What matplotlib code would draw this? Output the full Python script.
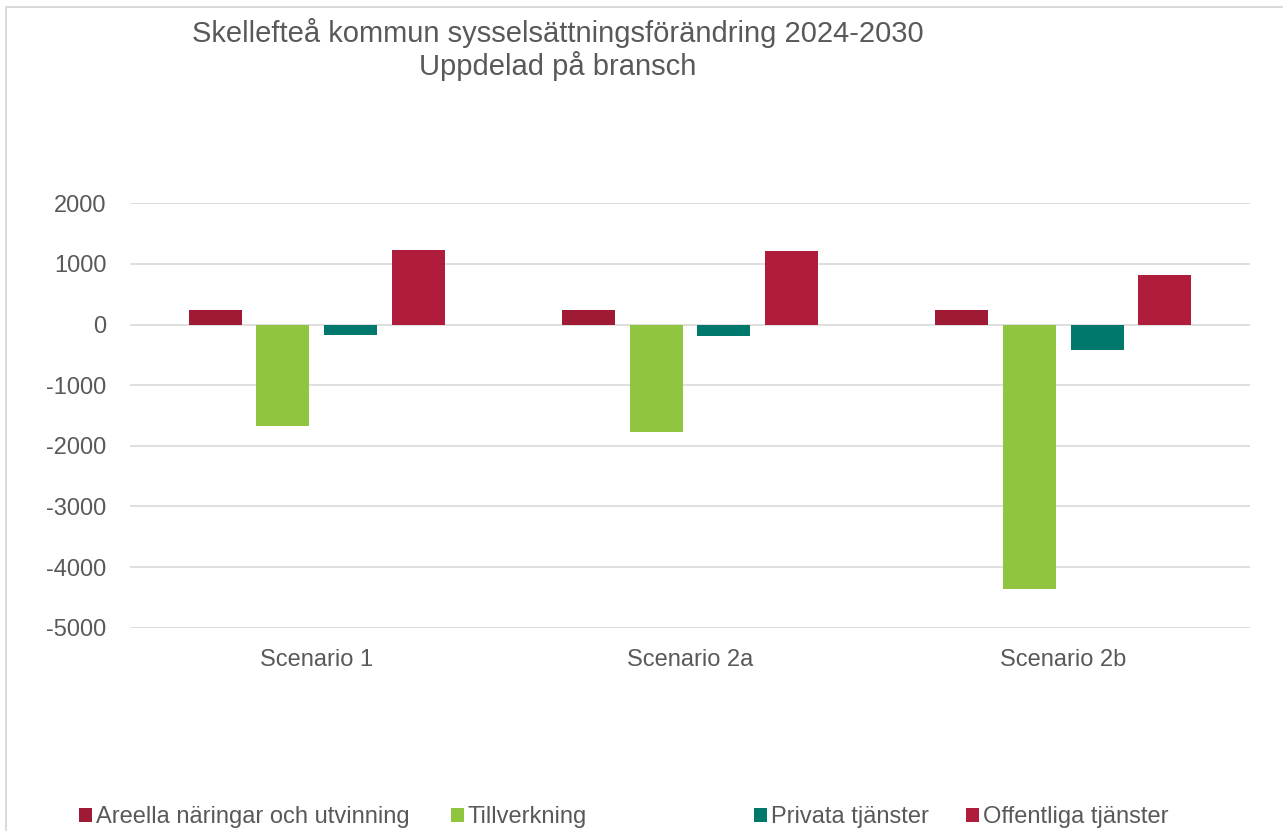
import matplotlib
matplotlib.use("Agg")
import matplotlib.pyplot as plt
from matplotlib.patches import Rectangle
import numpy as np

plt.rcParams['font.family'] = ['Liberation Sans', 'DejaVu Sans']

title_lines = ["Skellefteå kommun sysselsättningsförändring 2024-2030", "Uppdelad på bransch"]
categories = ["Scenario 1", "Scenario 2a", "Scenario 2b"]
series_names = ["Areella näringar och utvinning", "Tillverkning", "Privata tjänster", "Offentliga tjänster"]
areella = [235, 235, 235]
tillverkning = [-1675, -1773, -4364]
privata = [-176, -188, -412]
offentliga = [1223, 1212, 823]
series_values = [areella, tillverkning, privata, offentliga]
colors = ["#9F1A35", "#8FC53F", "#00786C", "#B01D3C"]
yticks = [2000, 1000, 0, -1000, -2000, -3000, -4000, -5000]

W, H = 1283, 831
fig = plt.figure(figsize=(W / 100, H / 100), dpi=100)
fig.patch.set_facecolor("white")

# outer chart border (light grey)
fig.add_artist(Rectangle((6 / W, -0.1), 1.2, (H - 7) / H + 0.1, transform=fig.transFigure,
                         fill=False, edgecolor="#d9d9d9", linewidth=1.4))

ax_l, ax_r = 130 / W, 1250 / W
ax_b, ax_t = 1 - 627.7 / H, 1 - 203.3 / H
ax = fig.add_axes([ax_l, ax_b, ax_r - ax_l, ax_t - ax_b])

x = np.arange(len(categories))
stride = 0.181
width = 0.142
handles = []
for i, (vals, col) in enumerate(zip(series_values, colors)):
    bc = ax.bar(x + (i - 1.5) * stride, vals, width=width, color=col, linewidth=0, zorder=3)
    handles.append(bc)

ax.set_xlim(-0.5, 2.5)
ax.set_ylim(-5000, 2000)
ax.set_yticks(yticks)
ax.set_yticklabels([str(v) for v in yticks])
ax.set_xticks(x)
ax.set_xticklabels(categories)
ax.tick_params(axis='both', length=0, labelsize=17, labelcolor="#595959")
ax.tick_params(axis='y', pad=17)
ax.tick_params(axis='x', pad=15)
for s in ax.spines.values():
    s.set_visible(False)
ax.grid(axis='y', color="#d9d9d9", linewidth=1.2, zorder=0)
ax.set_axisbelow(True)

fig.text(558 / W, 1 - 49.5 / H, "\n".join(title_lines), ha='center', va='center',
         fontsize=21, color="#595959", linespacing=1.15)

leg_x = [79.3, 450.6, 754, 966]
leg_y = 1 - 817.5 / H
for h, name, lx in zip(handles, series_names, leg_x):
    fig.legend(handles=[h], labels=[name], loc='center left', bbox_to_anchor=(lx / W, leg_y),
               frameon=False, borderpad=0, borderaxespad=0, handlelength=0.55, handleheight=0.55,
               handletextpad=0.15, fontsize=17, labelcolor="#595959")

fig.savefig("out.png", dpi=100, facecolor="white")
